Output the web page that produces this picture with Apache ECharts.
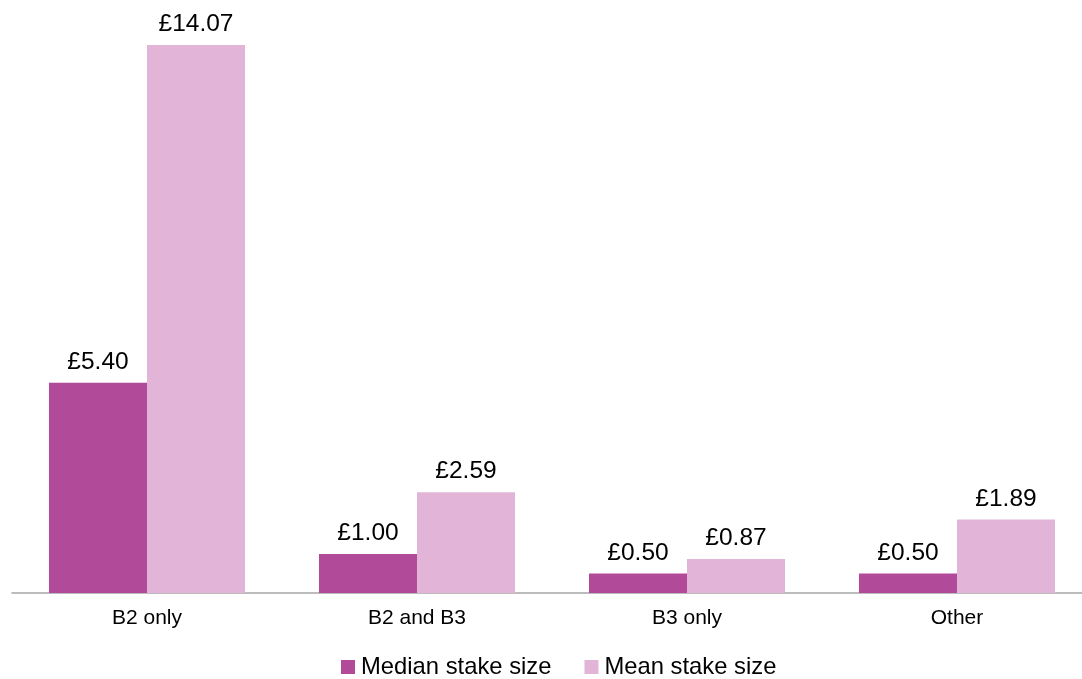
<!DOCTYPE html>
<html>
<head>
<meta charset="utf-8">
<script src="https://cdn.jsdelivr.net/npm/echarts@6/dist/echarts.min.js"></script>
<style>
html,body{margin:0;padding:0;background:#fff;}
#chart{width:1082px;height:679px;}
</style>
</head>
<body>
<div id="chart"></div>
<script>
const categories = ['B2 only', 'B2 and B3', 'B3 only', 'Other'];
const medianStake = [5.40, 1.00, 0.50, 0.50];
const meanStake = [14.07, 2.59, 0.87, 1.89];
const seriesNames = ['Median stake size', 'Mean stake size'];

const chart = echarts.init(document.getElementById('chart'), null, {renderer: 'canvas'});
const font = '"Liberation Sans", Arial, sans-serif';
const labelCfg = {
  show: true,
  position: 'top',
  distance: 8,
  color: '#000',
  fontFamily: font,
  fontSize: 24.5,
  formatter: p => '£' + p.value.toFixed(2)
};
chart.setOption({
  animation: false,
  backgroundColor: '#fff',
  grid: {left: 12, width: 1080, top: 8.8, bottom: 86, containLabel: false, outerBoundsMode: 'none'},
  legend: {
    left: 336,
    top: 650,
    icon: 'rect',
    itemWidth: 14,
    itemHeight: 14,
    itemGap: 33,
    textStyle: {fontFamily: font, fontSize: 23.8, color: '#000', padding: [0, 0, 0, 1]},
    data: seriesNames
  },
  xAxis: {
    type: 'category',
    data: categories,
    axisLine: {show: true, lineStyle: {color: '#A6A6A6', width: 1.5}},
    axisTick: {show: false},
    axisLabel: {fontFamily: font, fontSize: 21, color: '#000', margin: 15}
  },
  yAxis: {
    type: 'value',
    min: 0,
    max: 15,
    show: false,
    splitLine: {show: false}
  },
  series: [
    {
      name: seriesNames[0],
      type: 'bar',
      data: medianStake,
      barGap: '0%',
      barCategoryGap: '27.4%',
      itemStyle: {color: '#B14A99'},
      label: labelCfg
    },
    {
      name: seriesNames[1],
      type: 'bar',
      data: meanStake,
      barGap: '0%',
      barCategoryGap: '27.4%',
      itemStyle: {color: '#E2B4D7'},
      label: labelCfg
    }
  ]
});
</script>
</body>
</html>
